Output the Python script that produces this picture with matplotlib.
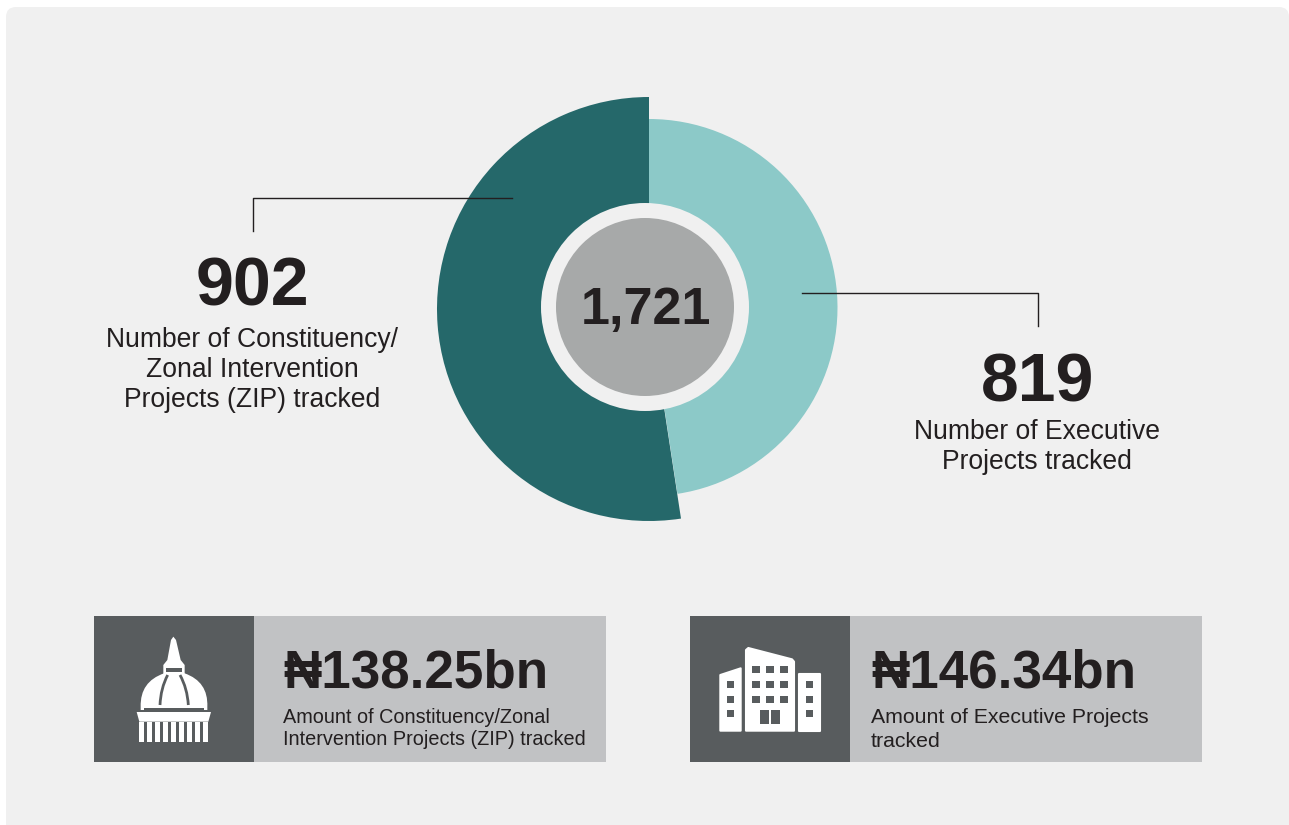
import matplotlib
matplotlib.use("Agg")
import matplotlib.pyplot as plt
from matplotlib.patches import Circle, FancyBboxPatch, Polygon, Rectangle, PathPatch
from matplotlib.path import Path

plt.rcParams['font.family'] = ['Liberation Sans', 'DejaVu Sans']

# values
project_counts = [902, 819]
project_colors = ["#25686A", "#8CC9C8"]
total_label = "1,721"
count_labels = ["902", "819"]
count_captions = [["Number of Constituency/", "Zonal Intervention", "Projects (ZIP) tracked"],
                  ["Number of Executive", "Projects tracked"]]
amount_labels = ["\u20a6138.25bn", "\u20a6146.34bn"]
amount_captions = [["Amount of Constituency/Zonal", "Intervention Projects (ZIP) tracked"],
                   ["Amount of Executive Projects", "tracked"]]

TEXT = "#231F20"
BG = "#F0F0F0"
DARK_BOX = "#585C5E"
LIGHT_BOX = "#C1C2C4"

fig = plt.figure(figsize=(12.89, 8.25), dpi=100, facecolor="white")
ax = fig.add_axes([0, 0, 1, 1])

ax.add_patch(FancyBboxPatch((6, 7), 1283, 830, boxstyle="round,pad=0,rounding_size=10",
                            fc=BG, ec="none"))

# donut: the two slices have different radii, y axis is flipped so angles are mirrored
wedges, _ = ax.pie(project_counts, colors=project_colors, center=(649, 309), radius=212,
                   startangle=-90, counterclock=False)
wedges[1].set_visible(False)
wedges, _ = ax.pie(project_counts, colors=project_colors, center=(649, 307.5), radius=188.5,
                   startangle=-90, counterclock=False)
wedges[0].set_visible(False)

ax.add_patch(Circle((645, 307), 104, fc=BG, ec="none"))
ax.add_patch(Circle((645, 307), 89, fc="#A7A9A9", ec="none"))
ax.text(646, 324, total_label, fontsize=37.5, fontweight="bold", color=TEXT, ha="center", va="baseline")

# leader lines
ax.plot([253, 253, 512], [231, 198, 198], color=TEXT, lw=1)
ax.plot([802, 1038, 1038], [293, 293, 326], color=TEXT, lw=1)

# counts and captions
ax.text(252, 305, count_labels[0], fontsize=49, fontweight="bold", color=TEXT, ha="center", va="baseline")
for line, y in zip(count_captions[0], [347, 377, 407]):
    ax.text(252, y, line, fontsize=19.1, color=TEXT, ha="center", va="baseline")
ax.text(1038, 401, count_labels[1], fontsize=49, fontweight="bold", color=TEXT, ha="center", va="baseline")
for line, y in zip(count_captions[1], [439, 469]):
    ax.text(1037, y, line, fontsize=19.1, color=TEXT, ha="center", va="baseline")

# bottom boxes
for i, left in enumerate([94, 690]):
    ax.add_patch(Rectangle((left, 616), 512, 146, fc=LIGHT_BOX, ec="none"))
    ax.add_patch(Rectangle((left, 616), 160, 146, fc=DARK_BOX, ec="none"))
    ax.text(left + 189 if i == 0 else left + 181, 688, amount_labels[i], fontsize=38.2, fontweight="bold",
            color=TEXT, va="baseline")
ax.text(283, 723, amount_captions[0][0], fontsize=14.3, color=TEXT, va="baseline")
ax.text(283, 745, amount_captions[0][1], fontsize=14.3, color=TEXT, va="baseline")
ax.text(871, 723, amount_captions[1][0], fontsize=15.3, color=TEXT, va="baseline")
ax.text(871, 747, amount_captions[1][1], fontsize=15.3, color=TEXT, va="baseline")


# dome icon, sketched in 3x crop coordinates
def d(x, y):
    return 90 + x / 3, 610 + y / 3


def box(x0, y0, x1, y1, conv, fc):
    ax.add_patch(Polygon([conv(x0, y0), conv(x1, y0), conv(x1, y1), conv(x0, y1)], fc=fc, ec="none"))


spire = [d(250, 80), d(258, 90), d(272, 150), d(284, 165), d(284, 195),
         d(220, 195), d(220, 165), d(232, 150), d(243, 90)]
ax.add_patch(Polygon(spire, fc="white", ec="none"))
dome = Path([d(152, 300), d(152, 290), d(150, 215), d(222, 190), d(284, 190), d(355, 215), d(352, 290),
             d(352, 300), d(152, 300)],
            [Path.MOVETO, Path.LINETO, Path.CURVE3, Path.CURVE3, Path.LINETO, Path.CURVE3, Path.CURVE3,
             Path.LINETO, Path.CLOSEPOLY])
ax.add_patch(PathPatch(dome, fc="white", ec="none"))
box(228, 175, 275, 185, d, DARK_BOX)
for pts in ([d(233, 195), d(212, 235), d(210, 285)], [d(270, 195), d(292, 235), d(295, 285)]):
    ax.add_patch(PathPatch(Path(pts, [Path.MOVETO, Path.CURVE3, Path.CURVE3]), fc="none", ec=DARK_BOX, lw=2))
box(162, 294, 342, 306, d, DARK_BOX)
ax.add_patch(Polygon([d(140, 306), d(363, 306), d(355, 335), d(148, 335)], fc="white", ec="none"))
for k in range(9):
    x = 148 + k * 23.9
    box(x, 335, x + 15, 395, d, "white")


# building icon, sketched in 3x crop coordinates
def b(x, y):
    return 686 + x / 3, 610 + y / 3


for pts in ([b(180, 120), b(187, 114), b(318, 148), b(324, 155), b(324, 362), b(180, 362)],
            [b(103, 195), b(164, 175), b(164, 362), b(103, 362)],
            [b(340, 193), b(401, 193), b(401, 362), b(340, 362)]):
    ax.add_patch(Polygon(pts, fc="white", ec="white", lw=1.5, joinstyle="round"))
for y0, y1 in [(169, 190), (213, 235), (257, 278)]:
    for x0, x1 in [(199, 222), (241, 264), (283, 306)]:
        box(x0, y0, x1, y1, b, DARK_BOX)
for y0, y1 in [(213, 235), (257, 278), (300, 322)]:
    box(123, y0, 145, y1, b, DARK_BOX)
    box(360, y0, 382, y1, b, DARK_BOX)
box(221, 300, 250, 343, b, DARK_BOX)
box(254, 300, 283, 343, b, DARK_BOX)

ax.set_xlim(0, 1289)
ax.set_ylim(825, 0)
ax.set_aspect("auto")
ax.axis("off")
fig.savefig("out.png", dpi=100, facecolor="white")
